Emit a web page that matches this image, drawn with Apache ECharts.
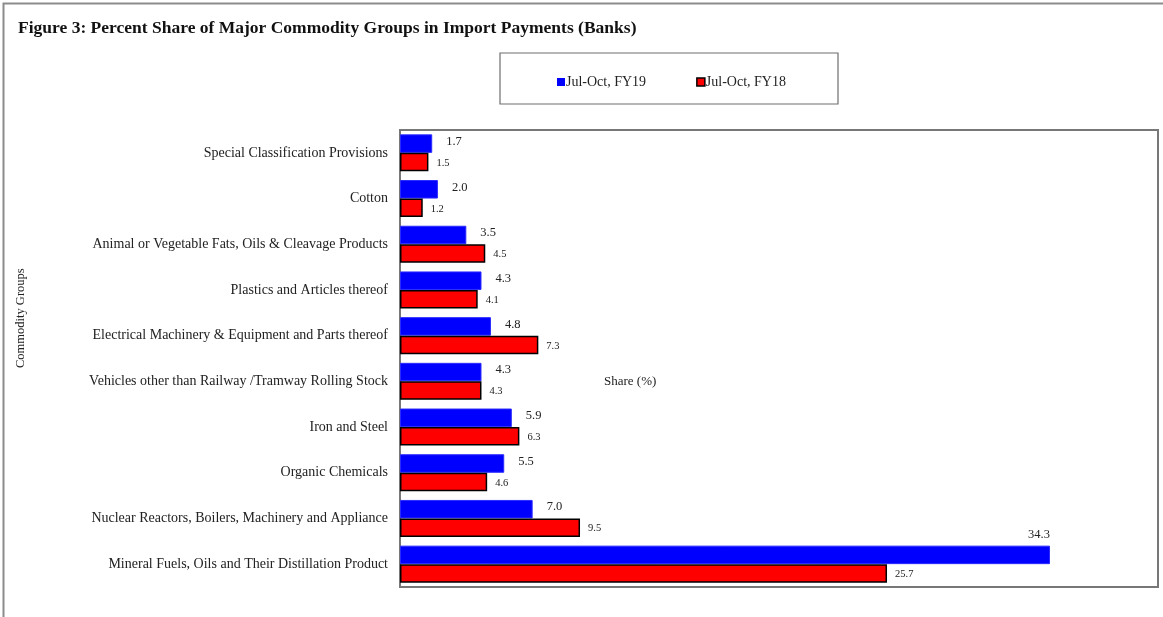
<!DOCTYPE html>
<html>
<head>
<meta charset="utf-8">
<script src="https://cdn.jsdelivr.net/npm/echarts@6/dist/echarts.min.js"></script>
<style>html,body{margin:0;padding:0;background:#fff;}#c{width:1163px;height:617px;}</style>
</head>
<body>
<div id="c"></div>
<script>
const categories = [
  'Special Classification Provisions',
  'Cotton',
  'Animal or Vegetable Fats, Oils & Cleavage Products',
  'Plastics and Articles thereof',
  'Electrical Machinery & Equipment and Parts thereof',
  'Vehicles other than Railway /Tramway Rolling Stock',
  'Iron and Steel',
  'Organic Chemicals',
  'Nuclear Reactors, Boilers, Machinery and Appliance',
  'Mineral Fuels, Oils and Their Distillation Product'
];
const fy19 = [1.7, 2.0, 3.5, 4.3, 4.8, 4.3, 5.9, 5.5, 7.0, 34.3];
const fy18 = [1.5, 1.2, 4.5, 4.1, 7.3, 4.3, 6.3, 4.6, 9.5, 25.7];
const seriesNames = ['Jul-Oct, FY19', 'Jul-Oct, FY18'];

const serif = 'Liberation Serif, Times New Roman, serif';
const chart = echarts.init(document.getElementById('c'), null, {renderer: 'canvas'});
const maxIdx = fy19.indexOf(Math.max(...fy19));
chart.setOption({
  animation: false,
  backgroundColor: '#fff',
  title: {
    text: 'Figure 3: Percent Share of Major Commodity Groups in Import Payments (Banks)',
    left: 13, top: 14,
    textStyle: {fontFamily: serif, fontSize: 17.5, fontWeight: 'bold', color: '#111'}
  },
  legend: {
    data: [
      {name: seriesNames[0], itemStyle: {color: '#0000ff', borderWidth: 0}},
      {name: seriesNames[1], itemStyle: {color: '#ff0000', borderColor: '#000', borderWidth: 1.5}}
    ],
    left: 552, top: 70,
    itemWidth: 8, itemHeight: 8, itemGap: 50,
    icon: 'rect',
    textStyle: {fontFamily: serif, fontSize: 14, color: '#222', padding: [0, 0, 0, -4]}
  },
  graphic: [
    {type: 'rect', shape: {x: 3.5, y: 3.5, width: 1200, height: 700}, style: {fill: null, stroke: '#8c8c8c', lineWidth: 2}, silent: true, z: 0},
    {type: 'rect', shape: {x: 500, y: 53, width: 338, height: 51}, style: {fill: null, stroke: '#6e6e6e', lineWidth: 1.2}, silent: true},
    {type: 'text', left: 604, top: 375, style: {text: 'Share (%)', font: '13px ' + serif, fill: '#222'}, silent: true},
    {type: 'text', x: 14, y: 368, rotation: Math.PI / 2, style: {text: 'Commodity Groups', font: '12.5px ' + serif, fill: '#222'}, silent: true}
  ],
  grid: {
    left: 400, top: 130, right: 5, bottom: 30,
    show: true, borderColor: '#777', borderWidth: 2, backgroundColor: 'transparent'
  },
  xAxis: {
    type: 'value', min: 0, max: 40, interval: 5,
    axisLine: {show: false}, axisTick: {show: false}, axisLabel: {show: false}, splitLine: {show: false}
  },
  yAxis: {
    type: 'category', data: categories, inverse: true,
    axisLine: {show: false}, axisTick: {show: false},
    axisLabel: {fontFamily: serif, fontSize: 14, color: '#222', margin: 12}
  },
  series: [
    {
      name: seriesNames[0], type: 'bar', barGap: '0%', barCategoryGap: '19%',
      itemStyle: {color: '#0000ff', borderColor: '#2a2aff', borderWidth: 1},
      label: {show: true, position: 'right', distance: 14, offset: [0, -2], formatter: p => p.value.toFixed(1), fontFamily: serif, fontSize: 12.5, color: '#222'},
      data: fy19.map((v, i) => i === maxIdx ? {value: v, label: {position: 'insideTopRight', offset: [0, -17], distance: 0}} : v)
    },
    {
      name: seriesNames[1], type: 'bar', barGap: '0%', barCategoryGap: '19%',
      itemStyle: {color: '#ff0000', borderColor: '#000', borderWidth: 1.5},
      label: {show: true, position: 'right', distance: 8, offset: [0, 1], formatter: p => p.value.toFixed(1), fontFamily: serif, fontSize: 10.5, color: '#222'},
      data: fy18
    }
  ]
});
</script>
</body>
</html>
